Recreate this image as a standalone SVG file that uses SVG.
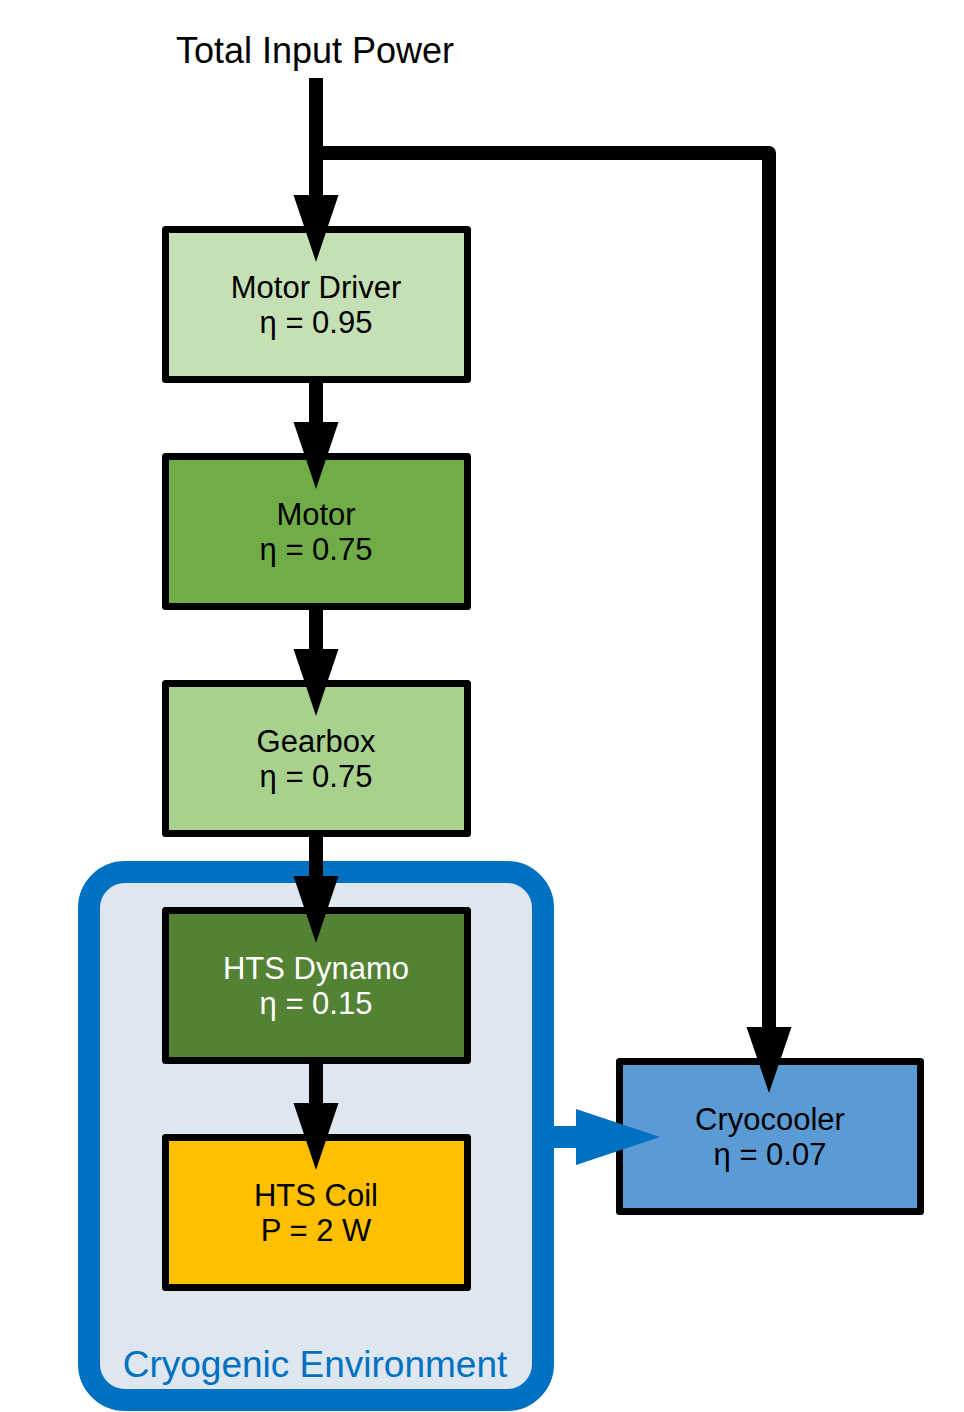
<svg xmlns="http://www.w3.org/2000/svg" width="964" height="1412" viewBox="0 0 964 1412">
  <style>
    .box { stroke: #000; stroke-width: 7; stroke-linejoin: round; }
    .t { font-family: "Liberation Sans", Arial, sans-serif; font-size: 31px; text-anchor: middle; fill: #000; }
    .w { fill: #fff; }
    .title { font-family: "Liberation Sans", Arial, sans-serif; font-size: 36px; text-anchor: middle; fill: #000; }
    .env { font-family: "Liberation Sans", Arial, sans-serif; font-size: 37px; text-anchor: middle; fill: #0070C0; }
    .line { fill: none; stroke: #000; stroke-width: 14; stroke-linejoin: round; }
    .head { fill: #000; }
  </style>
  <rect width="964" height="1412" fill="#fff"/>

  <g id="cryogenic-environment">
    <rect x="89" y="872" width="454" height="528" rx="36" ry="36" fill="#DEE6F0" stroke="#0070C0" stroke-width="22"/>
    <text class="env" x="315" y="1377">Cryogenic Environment</text>
  </g>

  <g id="title">
    <text class="title" x="315" y="63">Total Input Power</text>
  </g>

  <g id="motor-driver">
    <rect class="box" x="165.5" y="229.5" width="302" height="150" fill="#C5E0B4"/>
    <text class="t" x="316" y="298">Motor Driver</text>
    <text class="t" x="316" y="333">η = 0.95</text>
  </g>

  <g id="motor">
    <rect class="box" x="165.5" y="456.5" width="302" height="150" fill="#70AD47"/>
    <text class="t" x="316" y="525">Motor</text>
    <text class="t" x="316" y="560">η = 0.75</text>
  </g>

  <g id="gearbox">
    <rect class="box" x="165.5" y="683.5" width="302" height="150" fill="#A9D18E"/>
    <text class="t" x="316" y="752">Gearbox</text>
    <text class="t" x="316" y="787">η = 0.75</text>
  </g>

  <g id="hts-dynamo">
    <rect class="box" x="165.5" y="910.5" width="302" height="150" fill="#548235"/>
    <text class="t w" x="316" y="979">HTS Dynamo</text>
    <text class="t w" x="316" y="1014">η = 0.15</text>
  </g>

  <g id="hts-coil">
    <rect class="box" x="165.5" y="1137.5" width="302" height="150" fill="#FFC000"/>
    <text class="t" x="316" y="1206">HTS Coil</text>
    <text class="t" x="316" y="1241">P = 2 W</text>
  </g>

  <g id="cryocooler">
    <rect class="box" x="619.5" y="1061.5" width="301" height="150" fill="#5B9BD5"/>
    <text class="t" x="770" y="1130">Cryocooler</text>
    <text class="t" x="770" y="1165">η = 0.07</text>
  </g>

  <g id="connectors">
    <!-- input trunk -->
    <path class="line" d="M316 78 V200"/>
    <polygon class="head" points="293.5,195 338.5,195 316,262"/>
    <!-- branch to cryocooler -->
    <path class="line" d="M316 153 H769 V1032"/>
    <polygon class="head" points="746.5,1027 791.5,1027 769,1093"/>
    <!-- driver to motor -->
    <path class="line" d="M316 383 V427"/>
    <polygon class="head" points="293.5,422 338.5,422 316,489"/>
    <!-- motor to gearbox -->
    <path class="line" d="M316 610 V654"/>
    <polygon class="head" points="293.5,649 338.5,649 316,716"/>
    <!-- gearbox to dynamo -->
    <path class="line" d="M316 837 V881"/>
    <polygon class="head" points="293.5,876 338.5,876 316,943"/>
    <!-- dynamo to coil -->
    <path class="line" d="M316 1064 V1108"/>
    <polygon class="head" points="293.5,1103 338.5,1103 316,1170"/>
    <!-- heat load to cryocooler -->
    <path d="M550 1137 H580" fill="none" stroke="#0070C0" stroke-width="22"/>
    <polygon points="576,1109 660,1137 576,1165" fill="#0070C0"/>
  </g>
</svg>
